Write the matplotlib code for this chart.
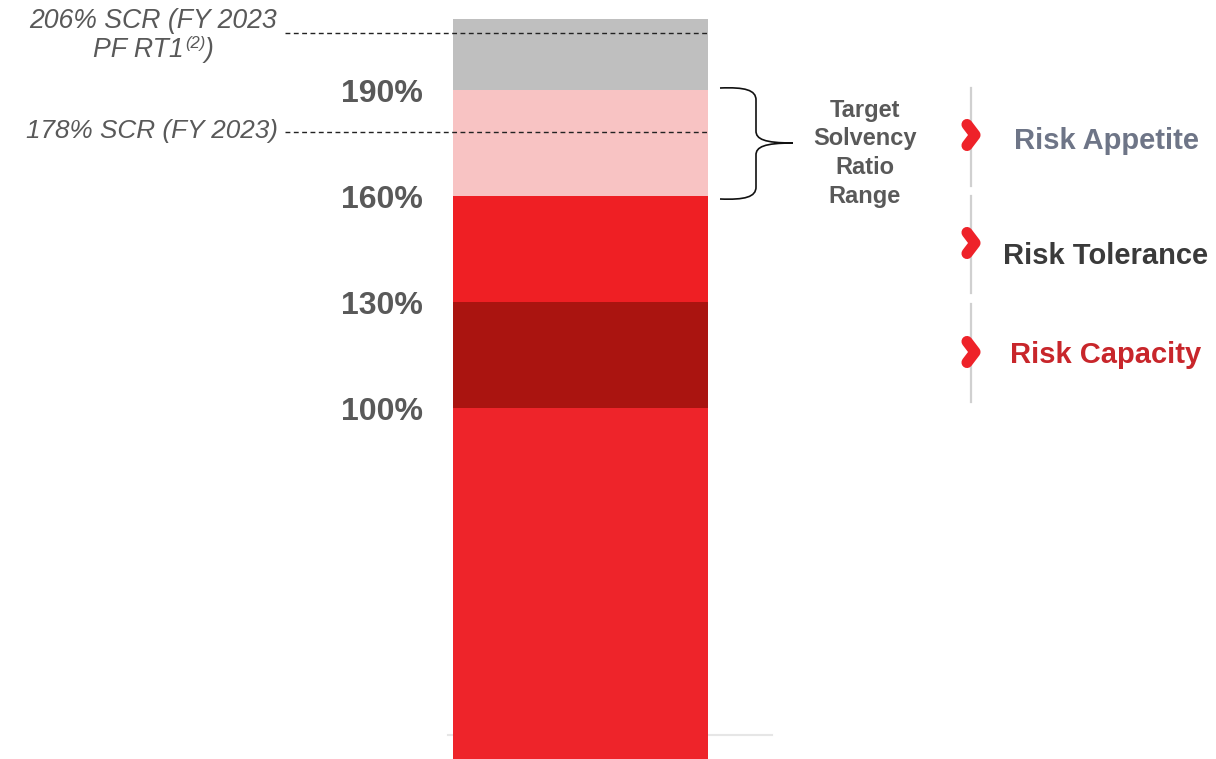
import matplotlib
matplotlib.use("Agg")
import matplotlib.pyplot as plt
from matplotlib.path import Path
from matplotlib.patches import PathPatch

# ---- data ----
segment_bounds = [0, 100, 130, 160, 190, 210]
segment_colors = ["#EE242A", "#AA1410", "#EF1F24", "#F8C3C3", "#BFBFBF"]
tick_values = [190, 160, 130, 100]
tick_labels = ["190%", "160%", "130%", "100%"]
ref_values = [206, 178]
ref_labels = [("206% SCR (FY 2023", "PF RT1", "(2)", ")"), ("178% SCR (FY 2023)",)]
range_label = ["Target", "Solvency", "Ratio", "Range"]
risk_labels = ["Risk Appetite", "Risk Tolerance", "Risk Capacity"]
risk_colors = ["#6E7587", "#3A3A3A", "#C8262B"]

W, H = 1216, 759
fig = plt.figure(figsize=(W / 100, H / 100), dpi=100)
plt.rcParams["font.family"] = ["Liberation Sans", "DejaVu Sans"]

# main axes: x in pixels, y in percent
px_per_pct = 106 / 30.0
y_top = 190 + 90 / px_per_pct
y_bot = 190 - (H - 90) / px_per_pct
ax = fig.add_axes([0, 0, 1, 1])
ax.set_xlim(0, W)
ax.set_ylim(y_bot, y_top)
ax.axis("off")

bar_x, bar_w = 580.5, 255
for lo, hi, c in zip(segment_bounds[:-1], segment_bounds[1:], segment_colors):
    ax.bar(bar_x, hi - lo, bottom=lo, width=bar_w, color=c, linewidth=0, zorder=2)

# baseline
ax.plot([448, 772], [7.4, 7.4], color="#E6E6E6", lw=1.5, zorder=1)

# tick labels
for v, lab in zip(tick_values, tick_labels):
    ax.text(423, v - 1.2, lab, ha="right", va="center", fontsize=23,
            fontweight="bold", color="#595959")

# reference dashed lines
for v in ref_values:
    ax.plot([285, 708], [v, v], color="#222222", lw=1.0,
            dashes=(3.5, 2.5), zorder=3)

# reference labels
tcol = "#595959"
fs_it = 19.2
ax.text(277, ref_values[0] + 3.6, ref_labels[0][0], ha="right", va="center",
        fontsize=fs_it, fontstyle="italic", color=tcol)
# second line: "PF RT1" + superscript "(2)" + ")"
line2_y = ref_values[0] - 4.6
fig.canvas.draw()
r = fig.canvas.get_renderer()
a = ax.text(0, line2_y, ref_labels[0][1], ha="left", va="center", fontsize=fs_it,
            fontstyle="italic", color=tcol)
b = ax.text(0, line2_y + 1.7, ref_labels[0][2], ha="left", va="center", fontsize=12,
            fontstyle="italic", color=tcol)
c = ax.text(0, line2_y, ref_labels[0][3], ha="left", va="center", fontsize=fs_it,
            fontstyle="italic", color=tcol)
wa = a.get_window_extent(r).width
wb = b.get_window_extent(r).width
wc = c.get_window_extent(r).width
total = wa + wb + wc
center = 153
x0 = center - total / 2
a.set_x(x0)
b.set_x(x0 + wa + 1)
c.set_x(x0 + wa + wb + 1)

ax.text(278, ref_values[1] + 0.4, ref_labels[1][0], ha="right", va="center",
        fontsize=fs_it - 0.4, fontstyle="italic", color=tcol)

# overlay axes in pixel coords (y down)
ov = fig.add_axes([0, 0, 1, 1])
ov.set_xlim(0, W)
ov.set_ylim(H, 0)
ov.axis("off")
ov.patch.set_alpha(0)

# curly brace
x0b, xm, xt = 720, 756, 793
ytop, ybot, ymid = 88, 199, 143
verts = [
    (x0b, ytop), (745, ytop - 1), (xm, ytop + 2), (xm, ytop + 12),
    (xm, ymid - 12), (xm, ymid - 4), (xm + 8, ymid), (xt, ymid),
    (xm + 8, ymid), (xm, ymid + 4), (xm, ymid + 12),
    (xm, ybot - 12), (xm, ybot - 2), (745, ybot + 1), (x0b, ybot),
]
codes = [Path.MOVETO, Path.CURVE4, Path.CURVE4, Path.CURVE4,
         Path.LINETO, Path.CURVE4, Path.CURVE4, Path.CURVE4,
         Path.CURVE4, Path.CURVE4, Path.CURVE4,
         Path.LINETO, Path.CURVE4, Path.CURVE4, Path.CURVE4]
ov.add_patch(PathPatch(Path(verts, codes), fill=False, ec="#111111", lw=1.2))

for i, s in enumerate(range_label):
    ov.text(865, 110 + i * 29, s, ha="center", va="center", fontsize=17,
            fontweight="bold", color="#595959")

# right side: vertical segments, chevrons, labels
seg_ranges = [(88, 186), (196, 293), (304, 402)]
chev_y = [135, 243, 352]
label_y = [141, 256, 355]
for (y1, y2), cy, ly, lab, col in zip(seg_ranges, chev_y, label_y, risk_labels, risk_colors):
    ov.plot([971, 971], [y1, y2], color="#D0D0D0", lw=1.6, zorder=1)
    ov.plot([967, 975, 967], [cy - 10.5, cy, cy + 10.5], color="#EE2229", lw=8,
            solid_capstyle="round", solid_joinstyle="round", zorder=2)
    ov.text(1106, ly, lab, ha="center", va="center", fontsize=21,
            fontweight="bold", color=col)

fig.savefig("out.png", dpi=100)
